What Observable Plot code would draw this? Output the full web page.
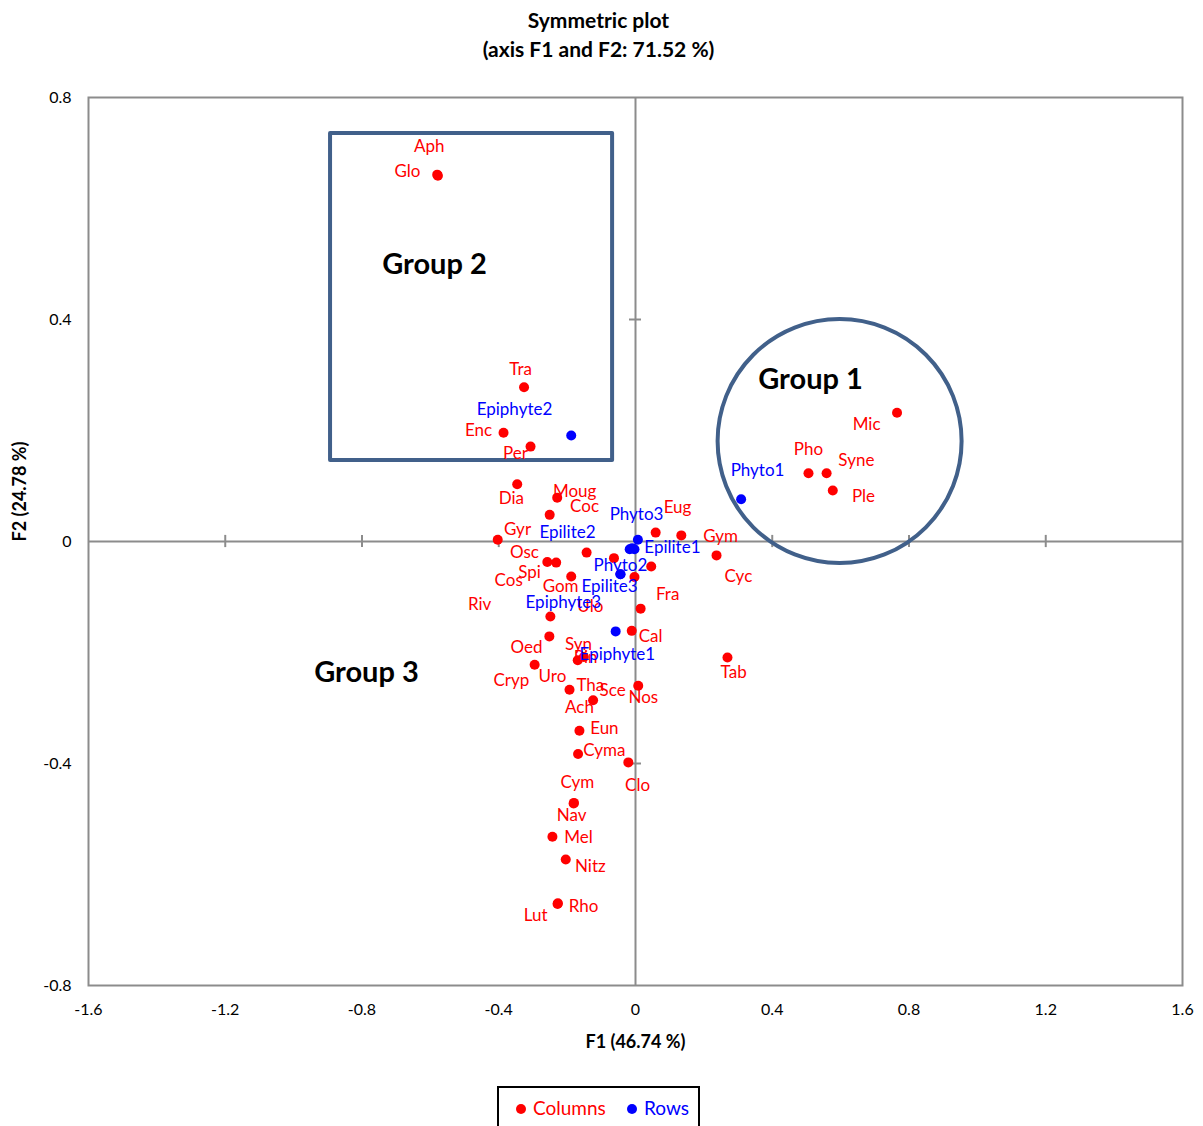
<!DOCTYPE html>
<html>
<head>
<meta charset="utf-8">
<script src="https://cdn.jsdelivr.net/npm/d3@7"></script>
<script src="https://cdn.jsdelivr.net/npm/@observablehq/plot@0.6"></script>
<style>
  html, body { margin: 0; padding: 0; overflow: hidden; background: #fff; }
  #wrap { position: relative; width: 1203px; height: 1126px; font-family: Lato, "Open Sans", sans-serif; }
  #title { position: absolute; left: 0; top: 5px; width: 1197px; text-align: center; font-weight: bold; font-size: 21px; line-height: 29px; color: #000; z-index: 2; }
  #chart { position: absolute; left: 0; top: 0; }
  #legend { position: absolute; left: 497px; top: 1086px; width: 199px; height: 50px; border: 2px solid #000; box-sizing: content-box; font-size: 19px; z-index: 2; }
  #legend .item { position: absolute; top: 9px; line-height: 22px; white-space: nowrap; }
  #legend .dot { display: inline-block; width: 10px; height: 10px; border-radius: 50%; margin-right: 7px; vertical-align: 1px; }
</style>
</head>
<body>
<div id="wrap">
  <div id="title">Symmetric plot<br>(axis F1 and F2: 71.52 %)</div>
  <div id="chart"></div>
  <div id="legend">
    <span class="item" style="left:17px;color:#ff0000"><span class="dot" style="background:#ff0000"></span>Columns</span>
    <span class="item" style="left:128px;color:#0000ff"><span class="dot" style="background:#0000ff"></span>Rows</span>
  </div>
</div>
<script>
// ---- Columns (red) ----
const colNames = ["Aph","Glo","Tra","Enc","Per","Dia","Moug","Coc","Gyr","Eug","Gym","Cyc","Osc","Spi","Cos","Ulo","Fra","Gom","Riv","Cal","Oed","Cryp","Uro","Syn","Pin","Tha","Sce","Nos","Ach","Eun","Cyma","Clo","Cym","Nav","Mel","Nitz","Rho","Lut","Mic","Pho","Syne","Ple","Tab"];
const colF1 = [-0.580,-0.578,-0.326,-0.386,-0.307,-0.346,-0.229,-0.251,-0.403,0.059,0.134,0.237,-0.258,-0.232,-0.143,-0.063,0.046,-0.188,-0.249,-0.011,-0.252,-0.295,-0.169,-0.151,-0.003,-0.193,0.015,0.008,-0.124,-0.164,-0.168,-0.021,-0.180,-0.181,-0.243,-0.204,-0.227,-0.228,0.765,0.506,0.559,0.577,0.269];
const colF2 = [0.661,0.659,0.278,0.196,0.171,0.103,0.079,0.048,0.003,0.016,0.011,-0.025,-0.037,-0.038,-0.020,-0.030,-0.045,-0.063,-0.135,-0.161,-0.171,-0.222,-0.214,-0.208,-0.064,-0.267,-0.121,-0.260,-0.286,-0.341,-0.383,-0.398,-0.471,-0.472,-0.532,-0.573,-0.652,-0.653,0.232,0.123,0.123,0.092,-0.209];
// label anchor positions (data units), as placed in the picture
const colLabelF1 = [-0.603,-0.667,-0.336,-0.459,-0.351,-0.363,-0.178,-0.149,-0.345,0.123,0.249,0.301,-0.325,-0.310,-0.371,-0.132,0.094,-0.219,-0.456,0.044,-0.319,-0.363,-0.243,-0.167,-0.146,-0.132,-0.067,0.023,-0.164,-0.091,-0.091,0.006,-0.170,-0.187,-0.167,-0.132,-0.152,-0.292,0.676,0.506,0.646,0.667,0.287];
const colLabelF2 = [0.712,0.667,0.310,0.200,0.159,0.077,0.090,0.063,0.022,0.061,0.009,-0.063,-0.020,-0.056,-0.070,-0.117,-0.095,-0.081,-0.114,-0.171,-0.191,-0.250,-0.243,-0.186,-0.209,-0.259,-0.268,-0.281,-0.299,-0.337,-0.377,-0.440,-0.434,-0.494,-0.533,-0.586,-0.658,-0.674,0.211,0.166,0.146,0.081,-0.236];

// ---- Rows (blue) ----
const rowNames = ["Phyto1","Phyto2","Phyto3","Epilite1","Epilite2","Epilite3","Epiphyte1","Epiphyte2","Epiphyte3"];
const rowF1 = [0.309,-0.010,0.007,-0.003,-0.017,-0.044,-0.058,-0.188,-0.044];
const rowF2 = [0.076,-0.012,0.003,-0.014,-0.014,-0.059,-0.162,0.191,-0.059];
const rowLabelF1 = [0.357,-0.044,0.003,0.108,-0.199,-0.076,-0.053,-0.354,-0.211];
const rowLabelF2 = [0.128,-0.043,0.049,-0.011,0.016,-0.081,-0.204,0.238,-0.110];

// ---- Axes ----
const xTicks = [-1.6,-1.2,-0.8,-0.4,0,0.4,0.8,1.2,1.6];
const xTickLabels = ["-1.6","-1.2","-0.8","-0.4","0","0.4","0.8","1.2","1.6"];
const yTicks = [-0.8,-0.4,0,0.4,0.8];
const yTickLabels = ["-0.8","-0.4","0","0.4","0.8"];
const xTitle = "F1 (46.74 %)";
const yTitle = "F2 (24.78 %)";

// ---- Group annotations ----
const groupNames = ["Group 1","Group 2","Group 3"];
const groupF1 = [0.512,-0.588,-0.787];
const groupF2 = [0.292,0.499,-0.236];
const group2Box = {x1:-0.892, x2:-0.067, y1:0.146, y2:0.735};
const group1Center = {x:0.597, y:0.181};

const cols = colNames.map((n,i)=>({name:n, x:colF1[i], y:colF2[i], lx:colLabelF1[i], ly:colLabelF2[i]}));
const rows = rowNames.map((n,i)=>({name:n, x:rowF1[i], y:rowF2[i], lx:rowLabelF1[i], ly:rowLabelF2[i]}));
const groups = groupNames.map((n,i)=>({name:n, x:groupF1[i], y:groupF2[i]}));

const gray = "#8c8c8c";
const outline = "#41608a";
const innerX = xTicks.filter(d => d !== 0 && Math.abs(d) < 1.6);
const innerY = yTicks.filter(d => d !== 0 && Math.abs(d) < 0.8);

const chart = Plot.plot({
  width: 1203,
  height: 1070,
  marginLeft: 88,
  marginRight: 21,
  marginTop: 97,
  marginBottom: 85,
  style: {fontFamily: "Lato, 'Open Sans', sans-serif", fontSize: "16px", color: "#000", background: "transparent"},
  x: {domain: [-1.6, 1.6]},
  y: {domain: [-0.8, 0.8]},
  marks: [
    Plot.frame({stroke: gray, strokeWidth: 2}),
    Plot.ruleY([0], {stroke: gray, strokeWidth: 2}),
    Plot.ruleX([0], {stroke: gray, strokeWidth: 2}),
    Plot.ruleX(innerX, {x: d => d, y1: -0.011, y2: 0.011, stroke: gray, strokeWidth: 2}),
    Plot.ruleY(innerY, {y: d => d, x1: -0.0175, x2: 0.0175, stroke: gray, strokeWidth: 2}),
    Plot.axisX({ticks: xTicks, tickSize: 0, tickPadding: 18, tickFormat: d => xTickLabels[xTicks.indexOf(d)], label: null, fontSize: 16}),
    Plot.axisY({ticks: yTicks, tickSize: 0, tickPadding: 17, tickFormat: d => yTickLabels[yTicks.indexOf(d)], label: null, fontSize: 16}),
    Plot.rect([group2Box], {x1: "x1", x2: "x2", y1: "y1", y2: "y2", fill: "none", stroke: outline, strokeWidth: 4, strokeLinejoin: "round"}),
    Plot.dot([group1Center], {x: "x", y: "y", r: 122, fill: "none", stroke: outline, strokeWidth: 4}),
    Plot.dot(cols, {x: "x", y: "y", r: 5, fill: "#ff0000"}),
    Plot.dot(rows, {x: "x", y: "y", r: 5, fill: "#0000ff"}),
    Plot.text(cols, {x: "lx", y: "ly", text: "name", fill: "#ff0000", fontSize: 17}),
    Plot.text(rows, {x: "lx", y: "ly", text: "name", fill: "#0000ff", fontSize: 17}),
    Plot.text(groups, {x: "x", y: "y", text: "name", fill: "#000", fontSize: 29, fontWeight: "bold"}),
    Plot.text([xTitle], {frameAnchor: "bottom", dy: 62, text: d => d, fontWeight: "bold", fontSize: 18}),
    Plot.text([yTitle], {frameAnchor: "left", dx: -68, rotate: -90, text: d => d, fontWeight: "bold", fontSize: 18})
  ]
});
document.getElementById("chart").appendChild(chart);
</script>
</body>
</html>
